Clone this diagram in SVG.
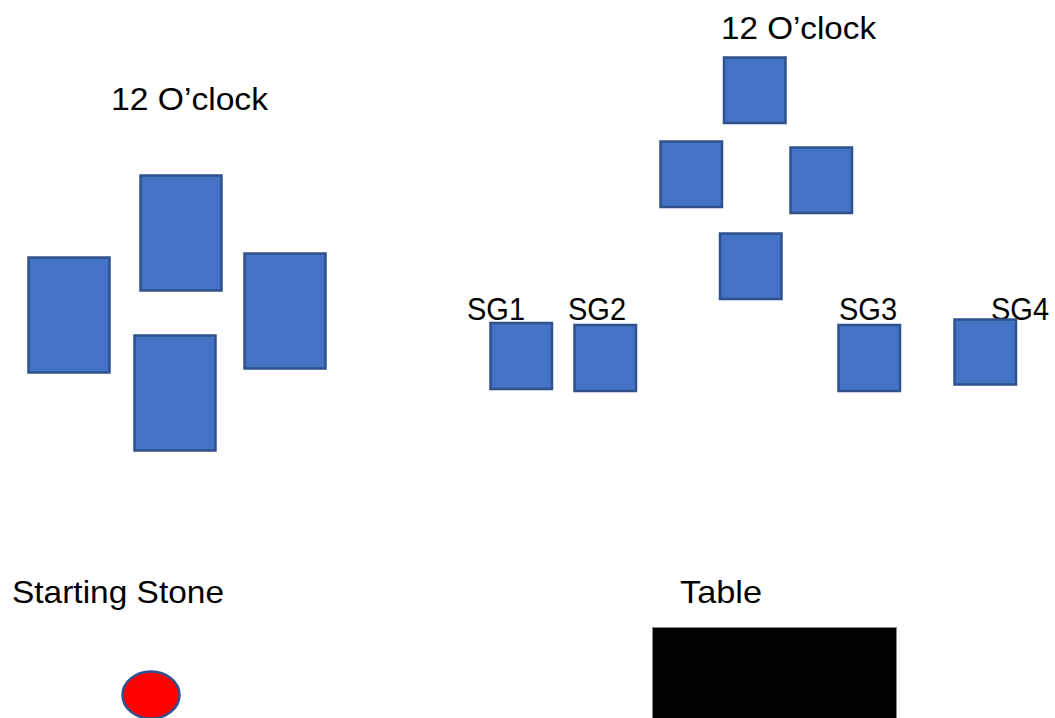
<svg xmlns="http://www.w3.org/2000/svg" width="1055" height="718" viewBox="0 0 1055 718">
<style>
.b{fill:#4472C4;stroke:#2F528F;stroke-width:2.5}
.t{font-family:"Liberation Sans",Arial,sans-serif;font-size:32px;fill:#000}
</style>
<rect width="1055" height="718" fill="#fff"/>
<text class="t" x="111" y="110" textLength="157" lengthAdjust="spacingAndGlyphs">12 O’clock</text>
<g id="left-top"><rect class="b" x="140.5" y="175.5" width="81" height="115"/></g>
<g id="left-left"><rect class="b" x="28.5" y="257.5" width="81" height="115"/></g>
<g id="left-right"><rect class="b" x="244.5" y="253.5" width="81" height="115"/></g>
<g id="left-bottom"><rect class="b" x="134.5" y="335.5" width="81" height="115"/></g>

<text class="t" x="721" y="39" textLength="155" lengthAdjust="spacingAndGlyphs">12 O’clock</text>
<g id="right-top"><rect class="b" x="724" y="57.5" width="61.5" height="65.5"/></g>
<g id="right-left"><rect class="b" x="660.5" y="141.5" width="61.5" height="65.5"/></g>
<g id="right-right"><rect class="b" x="790.5" y="147.5" width="61.5" height="65.5"/></g>
<g id="right-bottom"><rect class="b" x="720" y="233.5" width="61.5" height="65.5"/></g>

<g id="sg1"><text class="t" x="467" y="320" textLength="58" lengthAdjust="spacingAndGlyphs">SG1</text><rect class="b" x="490.5" y="323" width="61.5" height="66"/></g>
<g id="sg2"><text class="t" x="568" y="320" textLength="58" lengthAdjust="spacingAndGlyphs">SG2</text><rect class="b" x="574.5" y="325" width="61.5" height="66"/></g>
<g id="sg3"><text class="t" x="839" y="320" textLength="58" lengthAdjust="spacingAndGlyphs">SG3</text><rect class="b" x="838.5" y="325" width="61.5" height="66"/></g>
<g id="sg4"><text class="t" x="991" y="320" textLength="58" lengthAdjust="spacingAndGlyphs">SG4</text><rect class="b" x="954.5" y="319.5" width="61.5" height="65"/></g>

<g id="starting-stone">
<text class="t" x="12" y="603" textLength="212" lengthAdjust="spacingAndGlyphs">Starting Stone</text>
<ellipse cx="151" cy="695" rx="28.5" ry="23.5" fill="#FF0000" stroke="#2F528F" stroke-width="2.5"/>
</g>
<g id="table">
<text class="t" x="680" y="603" textLength="82" lengthAdjust="spacingAndGlyphs">Table</text>
<rect x="652.5" y="627.5" width="244" height="95" fill="#000" stroke="#888" stroke-width="1"/>
</g>
<g id="connectors"/>
</svg>
